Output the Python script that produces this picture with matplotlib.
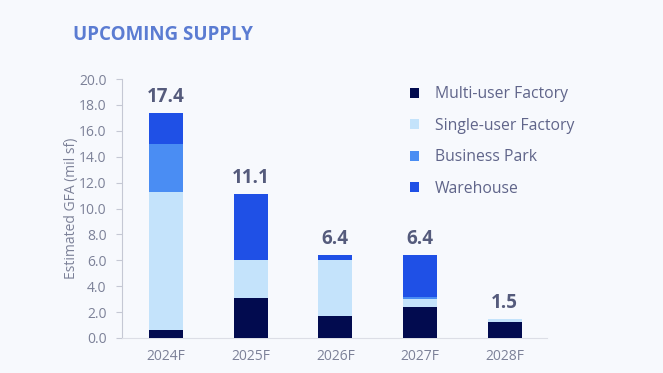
import matplotlib.pyplot as plt
from matplotlib.patches import Patch
import numpy as np

plt.rcParams['font.family'] = ['Open Sans', 'DejaVu Sans']

# data
years = ["2024F", "2025F", "2026F", "2027F", "2028F"]
multi_user = [0.6, 3.1, 1.7, 2.4, 1.2]
single_user = [10.7, 2.9, 4.3, 0.6, 0.3]
business_park = [3.7, 0.0, 0.0, 0.2, 0.0]
warehouse = [2.4, 5.1, 0.4, 3.2, 0.0]
totals = [17.4, 11.1, 6.4, 6.4, 1.5]

series = [
    ("Multi-user Factory", multi_user, "#020b4f"),
    ("Single-user Factory", single_user, "#c4e3fb"),
    ("Business Park", business_park, "#4a8df3"),
    ("Warehouse", warehouse, "#1f50e6"),
]

bg = "#f7f9fd"
tick_col = "#7c8198"

fig = plt.figure(figsize=(6.63, 3.73), dpi=100, facecolor=bg)
ax = fig.add_axes([0.184, 0.094, 0.641, 0.694], facecolor=bg)

x = np.arange(len(years))
bottom = np.zeros(len(years))
for name, vals, col in series:
    ax.bar(x, vals, 0.4, bottom=bottom, color=col, label=name, zorder=3)
    bottom += np.array(vals)

for xi, tot, b in zip(x, totals, bottom):
    ax.text(xi, b + 0.45, f"{tot:.1f}", ha="center", va="bottom",
            fontsize=13.5, fontweight="bold", color="#555b7c")

ax.set_ylim(0, 20)
ax.set_xlim(-0.52, 4.5)
ax.set_yticks(np.arange(0, 20.1, 2))
ax.set_yticklabels([f"{v:.1f}" for v in np.arange(0, 20.1, 2)])
ax.set_xticks(x)
ax.set_xticklabels(years)
ax.tick_params(axis="y", colors="#c5c8d4", labelcolor=tick_col, labelsize=10,
               length=4, width=0.8, pad=7)
ax.tick_params(axis="x", length=0, labelcolor=tick_col, labelsize=10, pad=8)
for s in ["top", "right"]:
    ax.spines[s].set_visible(False)
ax.spines["left"].set_color("#c5c8d4")
ax.spines["bottom"].set_color("#dcdee6")
ax.set_ylabel("Estimated GFA (mil sf)", fontsize=10, color=tick_col, labelpad=0)

fig.text(0.11, 0.905, "UPCOMING SUPPLY", fontsize=13.5, fontweight="bold",
         color="#5b7cd2", ha="left", va="center")

handles = [Patch(facecolor=c, label=n) for n, _, c in series]
fig.legend(handles=handles, loc="upper left", bbox_to_anchor=(0.597, 0.806),
           frameon=False, handlelength=0.6, handleheight=0.6, handletextpad=1.0,
           labelspacing=0.98, fontsize=11.3, labelcolor="#60658a")

fig.savefig("out.png", dpi=100, facecolor=bg)
